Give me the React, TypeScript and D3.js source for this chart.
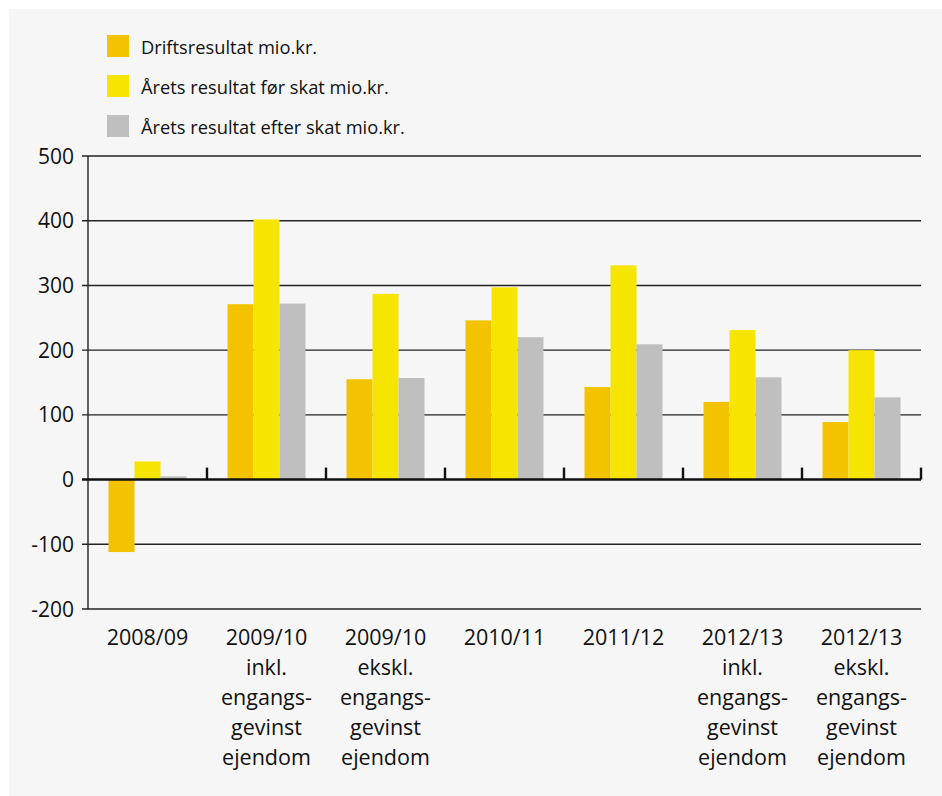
import React from 'react';
import * as d3 from 'd3';

const categories: string[][] = [
  ['2008/09'],
  ['2009/10', 'inkl.', 'engangs-', 'gevinst', 'ejendom'],
  ['2009/10', 'ekskl.', 'engangs-', 'gevinst', 'ejendom'],
  ['2010/11'],
  ['2011/12'],
  ['2012/13', 'inkl.', 'engangs-', 'gevinst', 'ejendom'],
  ['2012/13', 'ekskl.', 'engangs-', 'gevinst', 'ejendom'],
];

const seriesNames = [
  'Driftsresultat mio.kr.',
  'Årets resultat før skat mio.kr.',
  'Årets resultat efter skat mio.kr.',
];

const drifts = [-112, 271, 155, 246, 143, 120, 89];
const foerSkat = [28, 402, 287, 297, 331, 231, 200];
const efterSkat = [5, 272, 157, 220, 209, 158, 127];

const yTicks = [-200, -100, 0, 100, 200, 300, 400, 500];

const colors = ['#f4c300', '#f6e500', '#bfbfbf'];
const FONT = '"Open Sans", sans-serif';

const W = 942;
const H = 796;
const M = { top: 156, right: 21, bottom: 187, left: 88 };

export default function App() {
  const innerW = W - M.left - M.right;
  const innerH = H - M.top - M.bottom;
  const series = [drifts, foerSkat, efterSkat];
  const idx = categories.map((_, i) => i);

  const x = d3.scaleBand<number>().domain(idx).range([0, innerW]).paddingInner(0).paddingOuter(0);
  const inner = d3.scaleBand<number>().domain([0, 1, 2]).range([20.5, x.bandwidth() - 20.5]);
  const y = d3.scaleLinear().domain([-200, 500]).range([innerH, 0]);

  return (
    <svg width={W} height={H} style={{ position: 'absolute', left: 0, top: 0 }}>
      <rect x={0} y={0} width={W} height={H} fill="#fff" />
      <rect x={9} y={9} width={W - 9} height={H - 9} fill="#f6f6f6" />

      {/* legend */}
      <g fontFamily={FONT} fontSize={18.3} fill="#111">
        {seriesNames.map((n, i) => (
          <g key={n} transform={`translate(107,${35 + i * 40})`}>
            <rect width={22} height={22} fill={colors[i]} />
            <text x={34} y={18.5}>{n}</text>
          </g>
        ))}
      </g>

      <g transform={`translate(${M.left},${M.top})`}>
        {/* gridlines */}
        {yTicks.filter(t => t !== 0).map(t => (
          <line key={t} x1={-6} x2={innerW} y1={y(t)} y2={y(t)} stroke="#222" strokeWidth={1.4} />
        ))}
        <line x1={0} x2={0} y1={0} y2={innerH} stroke="#222" strokeWidth={1.4} />

        {/* bars */}
        {series.map((vals, s) =>
          vals.map((v, i) => (
            <rect
              key={`${s}-${i}`}
              x={(x(i) ?? 0) + (inner(s) ?? 0)}
              width={inner.bandwidth()}
              y={Math.min(y(v), y(0))}
              height={Math.abs(y(v) - y(0))}
              fill={colors[s]}
            />
          ))
        )}

        {/* zero line with category ticks */}
        <line x1={-6} x2={innerW} y1={y(0)} y2={y(0)} stroke="#111" strokeWidth={2.6} />
        {idx.map(i => (
          <line key={i} x1={(x(i) ?? 0) + x.bandwidth()} x2={(x(i) ?? 0) + x.bandwidth()}
            y1={y(0) - 12} y2={y(0)} stroke="#111" strokeWidth={2.4} />
        ))}

        {/* y labels */}
        <g fontFamily={FONT} fontSize={21} fill="#111" textAnchor="end">
          {yTicks.map(t => (
            <text key={t} x={-14} y={y(t)} dy="0.36em">{t}</text>
          ))}
        </g>

        {/* x labels */}
        <g fontFamily={FONT} fontSize={21.5} fill="#111" textAnchor="middle">
          {categories.map((lines, i) => (
            <text key={i} x={(x(i) ?? 0) + x.bandwidth() / 2} y={innerH + 36}>
              {lines.map((l, j) => (
                <tspan key={j} x={(x(i) ?? 0) + x.bandwidth() / 2} dy={j === 0 ? 0 : 30}>{l}</tspan>
              ))}
            </text>
          ))}
        </g>
      </g>
    </svg>
  );
}
